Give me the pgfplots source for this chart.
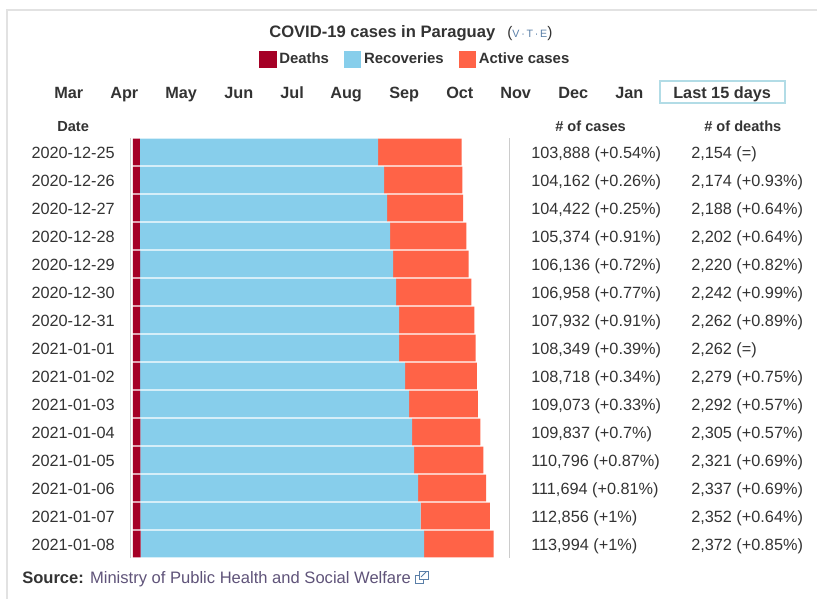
\documentclass[border=0pt]{standalone}
\usepackage{fontspec}
\setmainfont{Liberation Sans}
\usepackage{pgfplots}
\usepackage{pgfplotstable}
\pgfplotsset{compat=1.18}
\definecolor{deathcol}{HTML}{A50026}
\definecolor{reccol}{HTML}{87CEEB}
\definecolor{activecol}{HTML}{FF6347}
\definecolor{txt}{HTML}{333333}
\definecolor{framecol}{HTML}{E2E2E2}
\definecolor{rulecol}{HTML}{CCCCCC}
\definecolor{linkcol}{HTML}{5F5379}
\definecolor{vtecol}{HTML}{5A7FA8}
\definecolor{boxcol}{HTML}{B2DCE6}
% 1 unit = 1 px of the reference
\newcommand{\fbody}{\fontsize{12.2pt}{14pt}\selectfont}
\newcommand{\fhead}{\fontsize{10.95pt}{13pt}\selectfont\bfseries}
\newcommand{\fmonth}{\fontsize{12.2pt}{14pt}\selectfont\bfseries}

\pgfplotstableread{
row deaths recoveries active
1  2154 75315 26419
2  2174 77192 24796
3  2188 78127 24107
4  2202 79061 24111
5  2220 79992 23924
6  2242 80919 23797
7  2262 81847 23823
8  2262 81847 24240
9  2279 83727 22712
10 2292 84979 21802
11 2305 85915 21617
12 2321 86531 21944
13 2337 87780 21577
14 2352 88556 21948
15 2372 89642 21980
}\casetable

\newcommand{\tablerow}[3]{%
  \node[anchor=base west,inner sep=0,text=txt,font=\fbody] at (531,{158.5+28*#1}) {#2};
  \node[anchor=base west,inner sep=0,text=txt,font=\fbody] at (691,{158.5+28*#1}) {#3};
}
\newcommand{\mon}[2]{\node[anchor=base west,inner sep=0,text=txt,font=\fmonth] at (#1,98.5) {#2};}

\begin{document}
\begin{tikzpicture}[x=0.75pt,y=-0.75pt]
\path[use as bounding box] (0,0) rectangle (817,599);
\draw[framecol,line width=1.5pt] (7,599) -- (7,10) -- (817,10);

\begin{axis}[
    at={(97.875pt,-103.5pt)}, anchor=north west,
    scale only axis,
    width=284.25pt, height=315pt,
    xbar stacked,
    bar width=19.9pt,
    xmin=-790, xmax=119050,
    ymin=0.5, ymax=15.5,
    y dir=reverse,
    axis x line=none,
    axis y line*=box,
    ytick pos=left,
    y axis line style={rulecol,line width=0.6pt},
    ytick={1,...,15},
    yticklabels={2020-12-25,2020-12-26,2020-12-27,2020-12-28,2020-12-29,2020-12-30,2020-12-31,2021-01-01,2021-01-02,2021-01-03,2021-01-04,2021-01-05,2021-01-06,2021-01-07,2021-01-08},
    major tick length=0pt,
    yticklabel style={font=\fbody,text=txt,inner sep=0pt,anchor=east,xshift=-15.5*0.75pt,yshift=-0.4pt},
    legend columns=-1,
    legend style={draw=none,fill=none,at={(0.339,1.2095)},anchor=north west,inner sep=0pt,
        font=\fontsize{11.2pt}{13pt}\selectfont\bfseries,text=txt,
        /tikz/every even column/.append style={column sep=9.3pt}},
    legend image code/.code={\fill[#1,draw=none] (0pt,-6.4pt) rectangle (13pt,6.4pt);},
]
\addplot[fill=deathcol,draw=none] table[x=deaths,y=row] {\casetable};
\addplot[fill=reccol,draw=none] table[x=recoveries,y=row] {\casetable};
\addplot[fill=activecol,draw=none] table[x=active,y=row] {\casetable};
\legend{Deaths,Recoveries,Active cases}
\end{axis}

% title
\node[anchor=base west,inner sep=0,text=txt,font=\fontsize{12.45pt}{14pt}\selectfont\bfseries] at (269,38) {COVID-19 cases in Paraguay};
\node[anchor=base west,inner sep=0,text=txt,font=\fontsize{11.5pt}{13pt}\selectfont] at (507,38) {(\textcolor{vtecol}{\fontsize{8pt}{9pt}\selectfont V\,·\,T\,·\,E})};

% month row
\mon{54}{Mar}\mon{110}{Apr}\mon{165}{May}\mon{224}{Jun}\mon{280}{Jul}\mon{330}{Aug}
\mon{389}{Sep}\mon{446}{Oct}\mon{500}{Nov}\mon{558}{Dec}\mon{615}{Jan}
\draw[boxcol,line width=1.5pt] (660,81) rectangle (785,103);
\mon{673}{Last 15 days}

% headers
\node[anchor=base west,inner sep=0,text=txt,font=\fhead] at (57,132) {Date};
\node[anchor=base west,inner sep=0,text=txt,font=\fhead] at (555,132) {\# of cases};
\node[anchor=base west,inner sep=0,text=txt,font=\fhead] at (704,132) {\# of deaths};

% table columns
\tablerow{0}{103,888 (+0.54\%)}{2,154 (=)}
\tablerow{1}{104,162 (+0.26\%)}{2,174 (+0.93\%)}
\tablerow{2}{104,422 (+0.25\%)}{2,188 (+0.64\%)}
\tablerow{3}{105,374 (+0.91\%)}{2,202 (+0.64\%)}
\tablerow{4}{106,136 (+0.72\%)}{2,220 (+0.82\%)}
\tablerow{5}{106,958 (+0.77\%)}{2,242 (+0.99\%)}
\tablerow{6}{107,932 (+0.91\%)}{2,262 (+0.89\%)}
\tablerow{7}{108,349 (+0.39\%)}{2,262 (=)}
\tablerow{8}{108,718 (+0.34\%)}{2,279 (+0.75\%)}
\tablerow{9}{109,073 (+0.33\%)}{2,292 (+0.57\%)}
\tablerow{10}{109,837 (+0.7\%)}{2,305 (+0.57\%)}
\tablerow{11}{110,796 (+0.87\%)}{2,321 (+0.69\%)}
\tablerow{12}{111,694 (+0.81\%)}{2,337 (+0.69\%)}
\tablerow{13}{112,856 (+1\%)}{2,352 (+0.64\%)}
\tablerow{14}{113,994 (+1\%)}{2,372 (+0.85\%)}

% source line
\node[anchor=base west,inner sep=0,font=\fontsize{12.42pt}{14pt}\selectfont] at (22,583.5) {\textcolor{txt}{\bfseries Source:} \textcolor{linkcol}{Ministry of Public Health and Social Welfare}};
\draw[vtecol,line width=0.7pt] (415,575) rectangle (423,583);
\draw[vtecol,line width=0.7pt,fill=white] (419,571) rectangle (428,579);
\draw[vtecol,line width=0.7pt] (421,577) -- (426,572);
\end{tikzpicture}
\end{document}
